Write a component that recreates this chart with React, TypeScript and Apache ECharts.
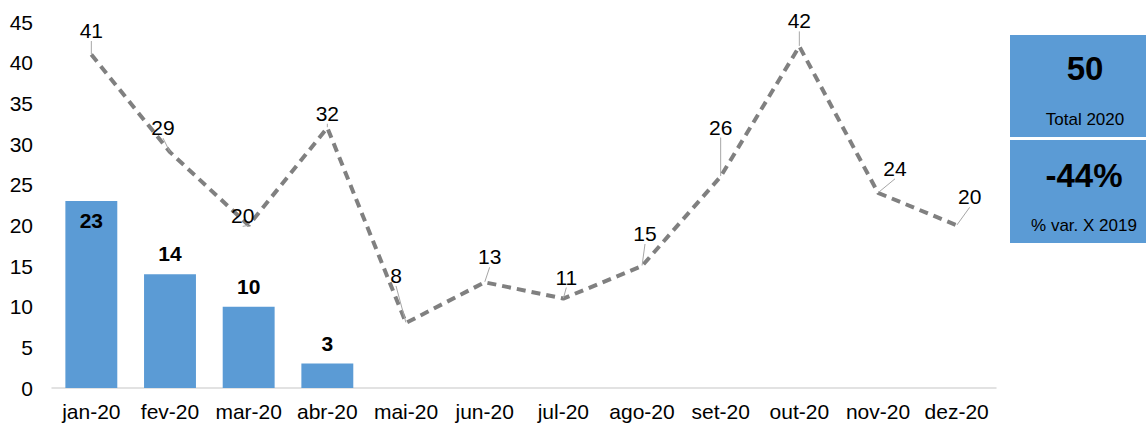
import React, { useEffect, useRef } from "react";
import * as echarts from "echarts";

const categories = ["jan-20", "fev-20", "mar-20", "abr-20", "mai-20", "jun-20", "jul-20", "ago-20", "set-20", "out-20", "nov-20", "dez-20"];
const bars2020 = [23, 14, 10, 3, null, null, null, null, null, null, null, null];
const line2019 = [41, 29, 20, 32, 8, 13, 11, 15, 26, 42, 24, 20];
const yTicks = { min: 0, max: 45, interval: 5 };
const totalValue = "50";
const totalLabel = "Total 2020";
const varValue = "-44%";
const varLabel = "% var. X 2019";

// label offsets (pixel shifts) for the line labels
const labelShift: [number, number][] = [
  [0, -8], [-7, -8.5], [-6, 6.5], [0, 1.5], [-10, -31.5], [5, -9.5],
  [3, -5.5], [3, -16.5], [0, -33.5], [0, -9.5], [17, -8.5], [13, -12.5],
];

const FONT = "'Liberation Sans', Arial, sans-serif";
const BLUE = "#5B9BD5";

export default function App() {
  const ref = useRef<HTMLDivElement>(null);
  useEffect(() => {
    const chart = echarts.init(ref.current!, null, { renderer: "svg" });
    chart.setOption({
      animation: false,
      textStyle: { fontFamily: FONT },
      grid: { left: 52, right: 150, top: 22, bottom: 42 },
      xAxis: {
        type: "category",
        data: categories,
        axisTick: { show: false },
        axisLine: { lineStyle: { color: "#D9D9D9", width: 1.5 } },
        axisLabel: { color: "#000", fontSize: 21, margin: 13, interval: 0, hideOverlap: false, fontFamily: FONT },
      },
      yAxis: {
        type: "value",
        min: yTicks.min,
        max: yTicks.max,
        interval: yTicks.interval,
        splitLine: { show: false },
        axisLine: { show: false },
        axisTick: { show: false },
        axisLabel: { color: "#000", fontSize: 21, margin: 19, fontFamily: FONT },
      },
      series: [
        {
          type: "bar",
          data: bars2020.map((v, i) => ({
            value: v,
            label: i === 0 ? { position: "insideTop", distance: 9 } : { position: "top", distance: 10 },
          })),
          barWidth: "66%",
          itemStyle: { color: BLUE },
          label: { show: true, color: "#000", fontWeight: "bold", fontSize: 21, fontFamily: FONT },
        },
        {
          type: "line",
          data: line2019,
          symbol: "circle",
          symbolSize: 1,
          itemStyle: { color: "rgba(0,0,0,0)" },
          lineStyle: { color: "#808080", width: 4, type: [9, 6] },
          label: { show: true, position: "top", color: "#000", fontSize: 21, fontFamily: FONT },
          labelLine: { show: true, lineStyle: { color: "#A6A6A6", width: 1 } },
          labelLayout: (p: any) => ({ dx: labelShift[p.dataIndex][0], dy: labelShift[p.dataIndex][1] }),
          z: 3,
        },
      ],
      graphic: [
        { type: "rect", left: 1010, top: 35, shape: { width: 136, height: 102 }, style: { fill: BLUE } },
        { type: "rect", left: 1010, top: 140, shape: { width: 136, height: 103 }, style: { fill: BLUE } },
        { type: "text", x: 1085, y: 68, style: { text: totalValue, fill: "#000", font: `bold 33px ${FONT}`, align: "center", verticalAlign: "middle" } },
        { type: "text", x: 1085, y: 119, style: { text: totalLabel, fill: "#000", font: `17px ${FONT}`, align: "center", verticalAlign: "middle" } },
        { type: "text", x: 1084, y: 175, style: { text: varValue, fill: "#000", font: `bold 33px ${FONT}`, align: "center", verticalAlign: "middle" } },
        { type: "text", x: 1084, y: 225, style: { text: varLabel, fill: "#000", font: `17px ${FONT}`, align: "center", verticalAlign: "middle" } },
      ],
    });
    return () => chart.dispose();
  }, []);
  return <div ref={ref} style={{ width: 1146, height: 430, position: "absolute", left: 0, top: 0 }} />;
}
